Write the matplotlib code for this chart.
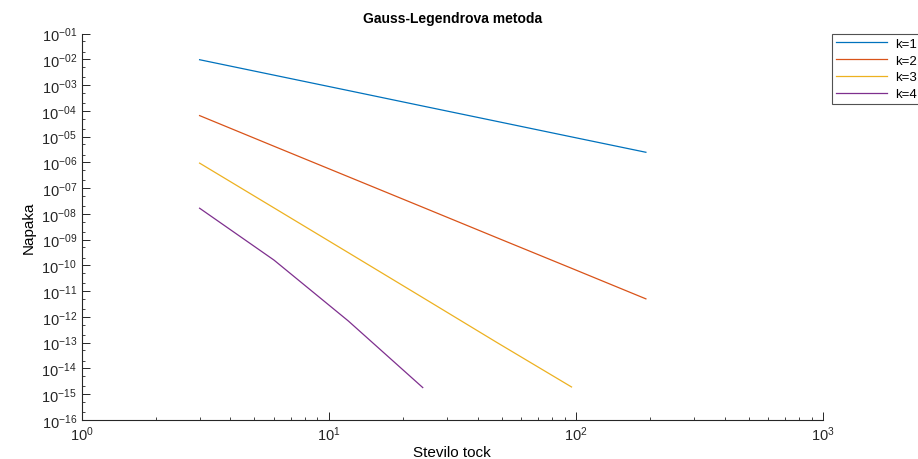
import math
import matplotlib
matplotlib.use('Agg')
import matplotlib.pyplot as plt
from matplotlib.ticker import LogLocator, FuncFormatter, NullFormatter

plt.rcParams['font.family'] = ['Liberation Sans', 'DejaVu Sans']
plt.rcParams['mathtext.fontset'] = 'custom'
plt.rcParams['mathtext.rm'] = 'Liberation Sans'
plt.rcParams['mathtext.it'] = 'Liberation Sans:italic'
plt.rcParams['mathtext.bf'] = 'Liberation Sans:bold'

# Stevilo tock (N = 3 * 2^j)
n_tock = [3, 6, 12, 24, 48, 96, 192]

napaka_k1 = [9.6e-3, 2.42e-3, 6.1e-4, 1.53e-4, 3.86e-5, 9.7e-6, 2.45e-6]
napaka_k2 = [6.5e-5, 4.2e-6, 2.75e-7, 1.8e-8, 1.17e-9, 7.7e-11, 5.0e-12]
napaka_k3 = [9.3e-7, 1.7e-8, 3.1e-10, 5.6e-12, 1.0e-13, 1.9e-15]
napaka_k4 = [1.65e-8, 1.6e-10, 6.9e-13, 1.8e-15]

labels = ['k=1', 'k=2', 'k=3', 'k=4']
colors = ['#0072BD', '#D95319', '#EDB120', '#7E2F8E']

fig = plt.figure(figsize=(9.18, 4.6), dpi=100)
ax = fig.add_axes([0.089, 0.085, 0.8075, 0.84])

series = [napaka_k1, napaka_k2, napaka_k3, napaka_k4]
for ys, lab, c in zip(series, labels, colors):
    ax.plot(n_tock[:len(ys)], ys, color=c, lw=0.9, label=lab)

ax.set_xscale('log')
ax.set_yscale('log')
ax.set_xlim(1, 1000)
ax.set_ylim(1e-16, 1e-1)

ax.yaxis.set_major_locator(LogLocator(base=10, numticks=20))
ax.yaxis.set_minor_locator(LogLocator(base=10, subs=(2, 5), numticks=40))
ax.yaxis.set_minor_formatter(NullFormatter())
ax.yaxis.set_major_formatter(FuncFormatter(
    lambda v, p: r'$10^{-%02d}$' % round(-math.log10(v))))
ax.xaxis.set_major_formatter(FuncFormatter(
    lambda v, p: r'$10^{%d}$' % round(math.log10(v))))

for s in ['top', 'right']:
    ax.spines[s].set_visible(False)
for s in ['left', 'bottom']:
    ax.spines[s].set_color('#262626')
    ax.spines[s].set_linewidth(0.8)

ax.tick_params(which='major', direction='in', length=6, width=0.7,
               colors='#262626', labelsize=10.5)
ax.tick_params(which='minor', direction='in', length=2.5, width=0.6,
               colors='#262626')

ax.set_title('Gauss-Legendrova metoda', fontsize=10, fontweight='bold', pad=8)
ax.set_xlabel('Stevilo tock', fontsize=11, labelpad=1)
ax.set_ylabel('Napaka', fontsize=11, labelpad=4)

leg = ax.legend(loc='upper left', bbox_to_anchor=(1.012, 1.0), borderaxespad=0,
                fontsize=9.5, frameon=True, fancybox=False, borderpad=0.3,
                handlelength=3.9, labelspacing=0.35, handletextpad=0.6)
leg.get_frame().set_edgecolor('#262626')
leg.get_frame().set_linewidth(0.8)

fig.savefig('out.png', dpi=100)
